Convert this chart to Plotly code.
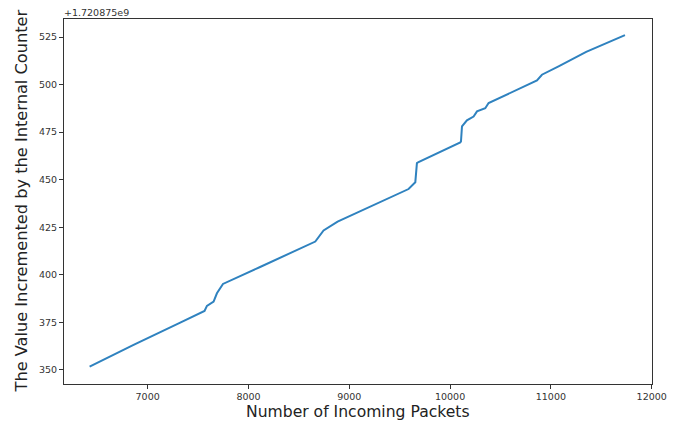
import plotly.graph_objects as go

# Data (y values are offsets from 1.720875e9)
packets = [6424, 6860, 7323, 7564, 7588, 7654, 7687, 7747, 8110, 8663, 8745, 8828,
           8884, 9588, 9655, 9671, 9687, 10101, 10108, 10118, 10167, 10233,
           10267, 10349, 10382, 10862, 10911, 11076, 11350, 11735]
counter_offset = [351.7, 363.2, 374.9, 381.0, 383.7, 385.9, 390.3, 395.2, 404.0, 417.5,
                  423.3, 426.3, 428.0, 445.1, 448.7, 458.7, 459.3, 469.6, 470.1,
                  478.0, 481.2, 483.2, 485.9, 487.6, 490.3, 502.2, 505.2, 509.6, 517.2,
                  526.0]
x_ticks = [7000, 8000, 9000, 10000, 11000, 12000]
y_ticks = [350, 375, 400, 425, 450, 475, 500, 525]
offset_label = "+1.720875e9"

fig = go.Figure()
fig.add_trace(go.Scatter(x=packets, y=counter_offset, mode="lines",
                         line=dict(color="#2f82bf", width=2), showlegend=False))

axis_common = dict(showline=True, mirror=True, linecolor="#333333", linewidth=1,
                   ticks="outside", ticklen=4, tickcolor="#333333", showgrid=False,
                   zeroline=False, tickfont=dict(family="DejaVu Sans", size=9.5, color="#333333"))

fig.update_xaxes(range=[6170, 12003], tickvals=x_ticks,
                 ticktext=[str(v) for v in x_ticks], **axis_common)
fig.update_yaxes(range=[342.6, 534.5], tickvals=y_ticks,
                 ticktext=[str(v) for v in y_ticks], **axis_common)

fig.update_layout(
    width=677, height=427,
    margin=dict(l=64, r=25, t=19, b=43, autoexpand=False),
    paper_bgcolor="white", plot_bgcolor="white",
    annotations=[
        dict(text="Number of Incoming Packets", xref="paper", yref="paper", x=0.5, y=0,
             xanchor="center", yanchor="middle", yshift=-28, showarrow=False,
             font=dict(family="DejaVu Sans", size=15.6, color="#222222")),
        dict(text="The Value Incremented by the Internal Counter", xref="paper", yref="paper",
             x=0, y=0.5, xanchor="center", yanchor="middle", xshift=-43, textangle=-90,
             showarrow=False, font=dict(family="DejaVu Sans", size=16.2, color="#222222")),
        dict(text=offset_label, xref="paper", yref="paper", x=0, y=1, xanchor="left",
             yanchor="bottom", xshift=-2, yshift=-1, showarrow=False,
             font=dict(family="DejaVu Sans", size=9.5, color="#333333")),
    ],
)

fig.write_html("out.html")
